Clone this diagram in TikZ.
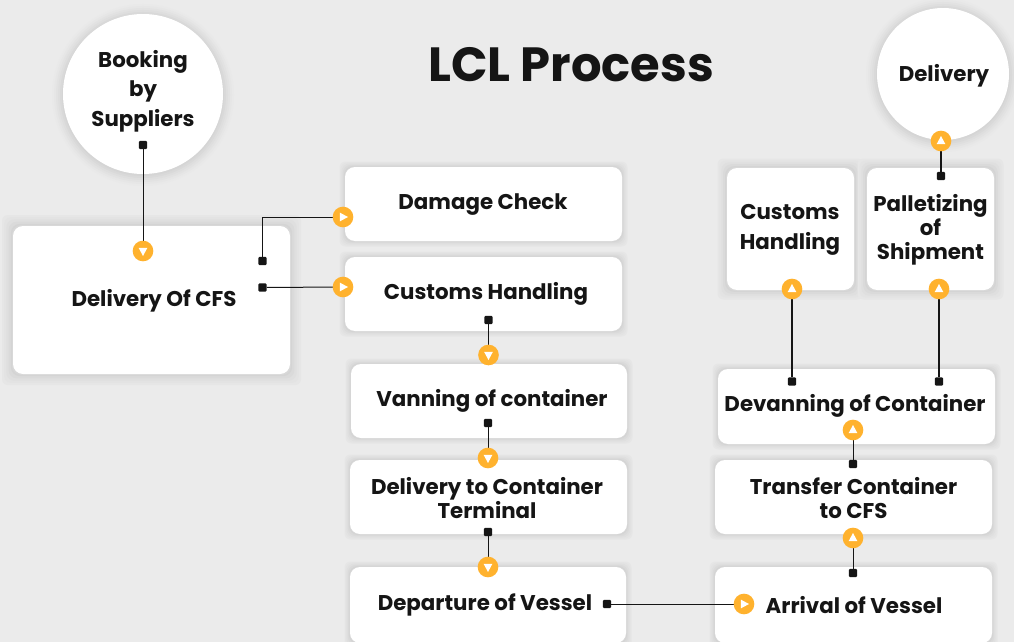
\documentclass[tikz,border=0pt]{standalone}
\usepackage{fontspec}
\setmainfont{Poppins}
\usetikzlibrary{calc}
\definecolor{bgc}{HTML}{EBEBEB}
\definecolor{inkc}{HTML}{151515}
\definecolor{orc}{HTML}{FFB22E}
\tikzset{
  x=0.75pt,y=-0.75pt,
  cardbox/.style={fill=white,rounded corners=7.5pt,inner sep=0pt},
  lbl/.style={text=inkc,font=\fontsize{16}{18}\selectfont\bfseries,align=center,inner sep=0pt},
  pin/.style={fill=inkc,rounded corners=0.8pt,minimum size=6.2pt,inner sep=0pt},
  badge/.style={circle,fill=orc,minimum size=15.5pt,inner sep=0pt},
  link/.style={draw=inkc,line width=0.75pt},
  heavylink/.style={draw=inkc,line width=1.1pt},
}
% shadowed rectangular card: name, x1,y1,x2,y2, halo width in px
\newcommand{\cardat}[6]{%
  \foreach \m/\c in {1/E6E6E6,0.8/E3E3E3,0.6/DFDFDF,0.4/DADADA,0.2/D4D4D4,0.1/D8D8D8}{%
    \definecolor{hc}{HTML}{\c}%
    \fill[hc,rounded corners=7.5pt-3pt*\m] ({#2-\m*#6},{#3-\m*#6}) rectangle ({#4+\m*#6},{#5+\m*#6});}%
  \node[cardbox,minimum width={(#4-#2)*0.75pt},minimum height={(#5-#3)*0.75pt}] (#1) at ({(#2+#4)/2},{(#3+#5)/2}) {};}
% shadowed circle: name, cx, cy, r
\newcommand{\discat}[4]{%
  \foreach \m/\c in {11/E9E9E9,9/E6E6E6,7/E2E2E2,5/DEDEDE,3/D9D9D9,1/D5D5D5}{%
    \definecolor{hc}{HTML}{\c}%
    \fill[hc] (#2,{#3+1}) circle[radius={(#4+\m)*0.75pt}];}%
  \node[circle,fill=white,minimum size={2*#4*0.75pt},inner sep=0pt] (#1) at (#2,#3) {};}
% badge: name, x, y, rotation of the white triangle (0 = right)
\newcommand{\badgeat}[4]{%
  \node[badge] (#1) at (#2,#3) {};
  \fill[white,rotate around={#4:(#1.center)}] ($(#1.center)+(-3.2,-4.4)$) -- ($(#1.center)+(5,0)$) -- ($(#1.center)+(-3.2,4.4)$) -- cycle;}
\begin{document}
\begin{tikzpicture}
\useasboundingbox (0,0) rectangle (1014,642);
\clip (0,0) rectangle (1014,642);
\fill[bgc] (0,0) rectangle (1014,642);

\discat{booking}{143}{94}{80}
\discat{deliv}{943}{74}{66}
\cardat{cfs}{13}{226}{290}{374}{11}
\cardat{damage}{345}{167}{622}{241}{5.5}
\cardat{customsa}{345}{257}{622}{331}{5.5}
\cardat{vanning}{351}{364}{627}{438}{5.5}
\cardat{terminal}{350}{460}{627}{534}{5.5}
\cardat{departure}{350}{567}{626}{643}{5.5}
\cardat{customsb}{727}{168}{854}{290}{9.5}
\cardat{pallet}{867}{168}{994}{290}{9.5}
\cardat{devan}{718}{369}{995}{444}{5.5}
\cardat{transfer}{715}{460}{992}{534}{5.5}
\cardat{arrival}{715}{567}{992}{643}{5.5}

\node[text=inkc,font=\fontsize{36}{40}\selectfont\bfseries,inner sep=0pt] (title) at (571,64.5) {LCL Process};
\node[lbl,font=\fontsize{16}{22}\selectfont\bfseries] (tbook) at (143,91) {Booking\\by\\Suppliers};
\node[lbl] (tdeliv) at (944,75.5) {Delivery};
\node[lbl] (tcfs) at (154,301) {Delivery Of CFS};
\node[lbl] (tdamage) at (483,205) {Damage Check};
\node[lbl] (tcusta) at (486,294) {Customs Handling};
\node[lbl] (tvan) at (492,401) {Vanning of container};
\node[lbl,font=\fontsize{16}{18}\selectfont\bfseries] (tterm) at (487,498.5) {Delivery to Container\\Terminal};
\node[lbl] (tdep) at (485,605) {Departure of Vessel};
\node[lbl,font=\fontsize{16}{22.5}\selectfont\bfseries] (tcustb) at (790,230) {Customs\\Handling};
\node[lbl,font=\fontsize{16}{18}\selectfont\bfseries] (tpal) at (930.5,230) {Palletizing\\of\\Shipment};
\node[lbl] (tdevan) at (855,406) {Devanning of Container};
\node[lbl,font=\fontsize{16}{18}\selectfont\bfseries] (ttrans) at (853.5,498) {Transfer Container\\to CFS};
\node[lbl] (tarr) at (854,605) {Arrival of Vessel};

\node[pin] (p1) at (143,145) {};
\node[pin] (p2) at (262.5,261) {};
\node[pin] (p3) at (262.5,287.5) {};
\node[pin] (p4) at (488.5,320) {};
\node[pin] (p5) at (488,423) {};
\node[pin] (p6) at (488,532) {};
\node[pin] (p7) at (607,604) {};
\node[pin] (p8) at (853,573) {};
\node[pin] (p9) at (853,464) {};
\node[pin] (p10) at (792,381.5) {};
\node[pin] (p11) at (939,381.5) {};
\node[pin] (p12) at (941,176) {};

\coordinate (b1c) at (143,251);
\coordinate (b2c) at (343,217);
\coordinate (b3c) at (343,287);
\coordinate (b4c) at (488.5,355);
\coordinate (b5c) at (488,458);
\coordinate (b6c) at (488,567);
\coordinate (b7c) at (744,604);
\coordinate (b8c) at (853,538);
\coordinate (b9c) at (853,430);
\coordinate (b10c) at (792,289);
\coordinate (b11c) at (939,289);
\coordinate (b12c) at (941,141);

\draw[link] (p1) -- (b1c);
\draw[link] (p2) |- (b2c);
\draw[link] (p3) -- (b3c);
\draw[link] (p4) -- (b4c);
\draw[link] (p5) -- (b5c);
\draw[link] (p6) -- (b6c);
\draw[link] (p7) -- (b7c);
\draw[link] (p8) -- (b8c);
\draw[link] (p9) -- (b9c);
\draw[heavylink] (p10) -- (b10c);
\draw[heavylink] (p11) -- (b11c);
\draw[heavylink] (p12) -- (b12c);

\badgeat{b1}{143}{251}{-90}
\badgeat{b2}{343}{217}{0}
\badgeat{b3}{343}{287}{0}
\badgeat{b4}{488.5}{355}{-90}
\badgeat{b5}{488}{458}{-90}
\badgeat{b6}{488}{567}{-90}
\badgeat{b7}{744}{604}{0}
\badgeat{b8}{853}{538}{90}
\badgeat{b9}{853}{430}{90}
\badgeat{b10}{792}{289}{90}
\badgeat{b11}{939}{289}{90}
\badgeat{b12}{941}{141}{90}
\end{tikzpicture}
\end{document}
